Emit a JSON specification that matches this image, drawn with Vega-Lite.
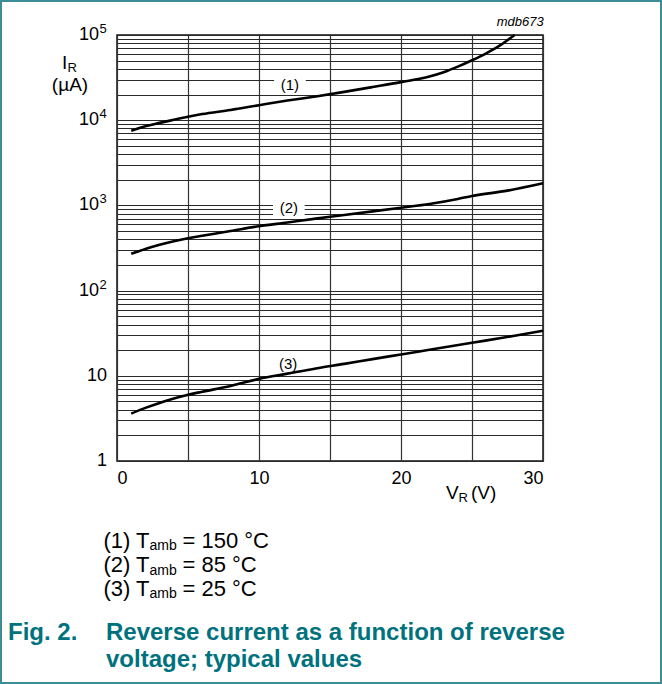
{
  "$schema": "https://vega.github.io/schema/vega-lite/v6.json",
  "width": 426,
  "height": 426,
  "autosize": {"type": "none"},
  "padding": {"left": 117, "top": 35, "right": 119, "bottom": 223},
  "background": "white",
  "config": {
    "font": "Liberation Sans",
    "view": {"stroke": "#111", "strokeWidth": 1.5},
    "text": {"font": "Liberation Sans", "color": "black"}
  },
  "datasets": {
    "curves": [
      {"curve": "1", "x": 1, "y": 7500}, {"curve": "1", "x": 2, "y": 8500}, {"curve": "1", "x": 3, "y": 9300},
      {"curve": "1", "x": 4, "y": 10100}, {"curve": "1", "x": 5, "y": 11000}, {"curve": "1", "x": 6, "y": 11800},
      {"curve": "1", "x": 8, "y": 13200}, {"curve": "1", "x": 10, "y": 15000}, {"curve": "1", "x": 12, "y": 17000},
      {"curve": "1", "x": 14, "y": 19000}, {"curve": "1", "x": 16, "y": 21500}, {"curve": "1", "x": 18, "y": 24500},
      {"curve": "1", "x": 20, "y": 28000}, {"curve": "1", "x": 22, "y": 32500}, {"curve": "1", "x": 23, "y": 36500},
      {"curve": "1", "x": 24, "y": 42500}, {"curve": "1", "x": 25, "y": 50500}, {"curve": "1", "x": 26, "y": 61000},
      {"curve": "1", "x": 27, "y": 76000}, {"curve": "1", "x": 28, "y": 100000},
      {"curve": "2", "x": 1, "y": 270}, {"curve": "2", "x": 2, "y": 308}, {"curve": "2", "x": 3, "y": 345},
      {"curve": "2", "x": 4, "y": 380}, {"curve": "2", "x": 5, "y": 412}, {"curve": "2", "x": 6, "y": 440},
      {"curve": "2", "x": 8, "y": 500}, {"curve": "2", "x": 10, "y": 570}, {"curve": "2", "x": 12, "y": 630},
      {"curve": "2", "x": 14, "y": 700}, {"curve": "2", "x": 16, "y": 770}, {"curve": "2", "x": 18, "y": 850},
      {"curve": "2", "x": 20, "y": 940}, {"curve": "2", "x": 22, "y": 1040}, {"curve": "2", "x": 24, "y": 1190},
      {"curve": "2", "x": 25, "y": 1290}, {"curve": "2", "x": 27.5, "y": 1490}, {"curve": "2", "x": 30, "y": 1820},
      {"curve": "3", "x": 1, "y": 3.6}, {"curve": "3", "x": 2, "y": 4.2}, {"curve": "3", "x": 3, "y": 4.8},
      {"curve": "3", "x": 4, "y": 5.4}, {"curve": "3", "x": 5, "y": 6.0}, {"curve": "3", "x": 6, "y": 6.5},
      {"curve": "3", "x": 8, "y": 7.6}, {"curve": "3", "x": 10, "y": 9.2}, {"curve": "3", "x": 12, "y": 10.6},
      {"curve": "3", "x": 14, "y": 12.2}, {"curve": "3", "x": 16, "y": 13.8}, {"curve": "3", "x": 18, "y": 15.7},
      {"curve": "3", "x": 20, "y": 17.8}, {"curve": "3", "x": 22, "y": 20.2}, {"curve": "3", "x": 25, "y": 24.4},
      {"curve": "3", "x": 28, "y": 29.5}, {"curve": "3", "x": 30, "y": 33.8}
    ],
    "curveLabels": [
      {"x": 12.18, "y": 25880, "label": "(1)"},
      {"x": 12.1, "y": 930, "label": "(2)"},
      {"x": 12.05, "y": 13.76, "label": "(3)"}
    ],
    "yLabels": [
      {"y": 1, "base": "1", "exp": ""},
      {"y": 10, "base": "10", "exp": ""},
      {"y": 100, "base": "10", "exp": "2"},
      {"y": 1000, "base": "10", "exp": "3"},
      {"y": 10000, "base": "10", "exp": "4"},
      {"y": 100000, "base": "10", "exp": "5"}
    ],
    "legend": [
      {"y": 0.1151, "lead": "(1) T", "sub": "amb", "rest": "= 150 °C"},
      {"y": 0.0601, "lead": "(2) T", "sub": "amb", "rest": "= 85 °C"},
      {"y": 0.03147, "lead": "(3) T", "sub": "amb", "rest": "= 25 °C"}
    ],
    "one": [{}]
  },
  "layer": [
    {
      "data": {"name": "one"},
      "mark": {"type": "rect", "filled": false, "stroke": "#3d8d96", "strokeWidth": 2},
      "encoding": {
        "x": {"datum": -8.169, "type": "quantitative", "scale": {"domain": [0, 30], "nice": false, "zero": false}},
        "x2": {"datum": 38.31},
        "y": {"datum": 250600, "type": "quantitative", "scale": {"type": "log", "domain": [1, 100000], "nice": false}},
        "y2": {"datum": 0.002477}
      }
    },
    {
      "data": {"name": "curveLabels"},
      "mark": {"type": "point", "shape": "M-1,-0.45L1,-0.45L1,0.45L-1,0.45Z", "size": 1000, "filled": true, "fill": "white", "opacity": 1, "strokeWidth": 0},
      "encoding": {
        "x": {"field": "x", "type": "quantitative", "scale": {"domain": [0, 30], "nice": false, "zero": false}},
        "y": {"field": "y", "type": "quantitative", "scale": {"type": "log", "domain": [1, 100000], "nice": false}}
      }
    },
    {
      "data": {"name": "curves"},
      "mark": {"type": "line", "color": "black", "strokeWidth": 2.6, "interpolate": "monotone"},
      "encoding": {
        "x": {
          "field": "x", "type": "quantitative",
          "scale": {"domain": [0, 30], "nice": false, "zero": false},
          "axis": {
            "values": [0, 5, 10, 15, 20, 25, 30],
            "labelExpr": "datum.value % 10 === 0 ? datum.label : ''",
            "labelFont": "Liberation Sans", "labelFontSize": 18, "labelColor": "black",
            "labelPadding": 8, "ticks": false, "domain": false,
            "grid": true, "gridColor": "#333", "gridWidth": 1.2, "gridOpacity": 1,
            "title": null
          }
        },
        "y": {
          "field": "y", "type": "quantitative",
          "scale": {"type": "log", "domain": [1, 100000], "nice": false},
          "axis": {
            "values": [1,2,3,4,5,6,7,8,9,10,20,30,40,50,60,70,80,90,100,200,300,400,500,600,700,800,900,1000,2000,3000,4000,5000,6000,7000,8000,9000,10000,20000,30000,40000,50000,60000,70000,80000,90000,100000],
            "labels": false, "ticks": false, "domain": false,
            "grid": true, "gridColor": "#2a2a2a", "gridWidth": 1, "gridOpacity": 1,
            "title": null
          }
        },
        "detail": {"field": "curve"}
      }
    },
    {
      "data": {"name": "curveLabels"},
      "mark": {"type": "text", "fontSize": 15, "align": "center", "baseline": "middle"},
      "encoding": {
        "x": {"field": "x", "type": "quantitative", "scale": {"domain": [0, 30], "nice": false, "zero": false}},
        "y": {"field": "y", "type": "quantitative", "scale": {"type": "log", "domain": [1, 100000], "nice": false}},
        "text": {"field": "label"}
      }
    },
    {
      "data": {"name": "yLabels"},
      "transform": [{"filter": "datum.exp !== ''"}],
      "mark": {"type": "text", "fontSize": 18, "align": "right", "baseline": "middle", "dx": -18},
      "encoding": {
        "x": {"datum": 0, "type": "quantitative", "scale": {"domain": [0, 30], "nice": false, "zero": false}},
        "y": {"field": "y", "type": "quantitative", "scale": {"type": "log", "domain": [1, 100000], "nice": false}},
        "text": {"field": "base"}
      }
    },
    {
      "data": {"name": "yLabels"},
      "transform": [{"filter": "datum.exp !== ''"}],
      "mark": {"type": "text", "fontSize": 13, "align": "left", "baseline": "middle", "dx": -17.5, "dy": -6},
      "encoding": {
        "x": {"datum": 0, "type": "quantitative", "scale": {"domain": [0, 30], "nice": false, "zero": false}},
        "y": {"field": "y", "type": "quantitative", "scale": {"type": "log", "domain": [1, 100000], "nice": false}},
        "text": {"field": "exp"}
      }
    },
    {
      "data": {"name": "yLabels"},
      "transform": [{"filter": "datum.exp === ''"}],
      "mark": {"type": "text", "fontSize": 18, "align": "right", "baseline": "middle", "dx": -10},
      "encoding": {
        "x": {"datum": 0, "type": "quantitative", "scale": {"domain": [0, 30], "nice": false, "zero": false}},
        "y": {"field": "y", "type": "quantitative", "scale": {"type": "log", "domain": [1, 100000], "nice": false}},
        "text": {"field": "base"}
      }
    },
    {
      "data": {"name": "one"},
      "mark": {"type": "text", "fontSize": 19, "align": "left", "baseline": "middle", "text": "I"},
      "encoding": {
        "x": {"datum": -3.873, "type": "quantitative", "scale": {"domain": [0, 30], "nice": false, "zero": false}},
        "y": {"datum": 46880, "type": "quantitative", "scale": {"type": "log", "domain": [1, 100000], "nice": false}}
      }
    },
    {
      "data": {"name": "one"},
      "mark": {"type": "text", "fontSize": 13, "align": "left", "baseline": "middle", "text": "R", "dx": 5.5, "dy": 5},
      "encoding": {
        "x": {"datum": -3.873, "type": "quantitative", "scale": {"domain": [0, 30], "nice": false, "zero": false}},
        "y": {"datum": 46880, "type": "quantitative", "scale": {"type": "log", "domain": [1, 100000], "nice": false}}
      }
    },
    {
      "data": {"name": "one"},
      "mark": {"type": "text", "fontSize": 19, "align": "center", "baseline": "middle", "text": "(µA)"},
      "encoding": {
        "x": {"datum": -3.31, "type": "quantitative", "scale": {"domain": [0, 30], "nice": false, "zero": false}},
        "y": {"datum": 25880, "type": "quantitative", "scale": {"type": "log", "domain": [1, 100000], "nice": false}}
      }
    },
    {
      "data": {"name": "one"},
      "mark": {"type": "text", "fontSize": 19, "align": "left", "baseline": "middle", "text": "V"},
      "encoding": {
        "x": {"datum": 23.17, "type": "quantitative", "scale": {"domain": [0, 30], "nice": false, "zero": false}},
        "y": {"datum": 0.4207, "type": "quantitative", "scale": {"type": "log", "domain": [1, 100000], "nice": false}}
      }
    },
    {
      "data": {"name": "one"},
      "mark": {"type": "text", "fontSize": 13, "align": "left", "baseline": "middle", "text": "R", "dx": 12.5, "dy": 5},
      "encoding": {
        "x": {"datum": 23.17, "type": "quantitative", "scale": {"domain": [0, 30], "nice": false, "zero": false}},
        "y": {"datum": 0.4207, "type": "quantitative", "scale": {"type": "log", "domain": [1, 100000], "nice": false}}
      }
    },
    {
      "data": {"name": "one"},
      "mark": {"type": "text", "fontSize": 19, "align": "left", "baseline": "middle", "text": "(V)", "dx": 25},
      "encoding": {
        "x": {"datum": 23.17, "type": "quantitative", "scale": {"domain": [0, 30], "nice": false, "zero": false}},
        "y": {"datum": 0.4207, "type": "quantitative", "scale": {"type": "log", "domain": [1, 100000], "nice": false}}
      }
    },
    {
      "data": {"name": "one"},
      "mark": {"type": "text", "fontSize": 13, "fontStyle": "italic", "align": "right", "baseline": "middle", "text": "mdb673"},
      "encoding": {
        "x": {"datum": 30.05, "type": "quantitative", "scale": {"domain": [0, 30], "nice": false, "zero": false}},
        "y": {"datum": 142100, "type": "quantitative", "scale": {"type": "log", "domain": [1, 100000], "nice": false}}
      }
    },
    {
      "data": {"name": "legend"},
      "mark": {"type": "text", "fontSize": 22, "align": "left", "baseline": "middle"},
      "encoding": {
        "x": {"datum": -0.95, "type": "quantitative", "scale": {"domain": [0, 30], "nice": false, "zero": false}},
        "y": {"field": "y", "type": "quantitative", "scale": {"type": "log", "domain": [1, 100000], "nice": false}},
        "text": {"field": "lead"}
      }
    },
    {
      "data": {"name": "legend"},
      "mark": {"type": "text", "fontSize": 14, "align": "left", "baseline": "middle", "dx": 46, "dy": 5.5},
      "encoding": {
        "x": {"datum": -0.95, "type": "quantitative", "scale": {"domain": [0, 30], "nice": false, "zero": false}},
        "y": {"field": "y", "type": "quantitative", "scale": {"type": "log", "domain": [1, 100000], "nice": false}},
        "text": {"field": "sub"}
      }
    },
    {
      "data": {"name": "legend"},
      "mark": {"type": "text", "fontSize": 22, "align": "left", "baseline": "middle", "dx": 79},
      "encoding": {
        "x": {"datum": -0.95, "type": "quantitative", "scale": {"domain": [0, 30], "nice": false, "zero": false}},
        "y": {"field": "y", "type": "quantitative", "scale": {"type": "log", "domain": [1, 100000], "nice": false}},
        "text": {"field": "rest"}
      }
    },
    {
      "data": {"name": "one"},
      "mark": {"type": "text", "fontSize": 24, "fontWeight": "bold", "color": "#00727e", "align": "left", "baseline": "middle", "text": "Fig. 2."},
      "encoding": {
        "x": {"datum": -7.676, "type": "quantitative", "scale": {"domain": [0, 30], "nice": false, "zero": false}},
        "y": {"datum": 0.009576, "type": "quantitative", "scale": {"type": "log", "domain": [1, 100000], "nice": false}}
      }
    },
    {
      "data": {"name": "one"},
      "mark": {"type": "text", "fontSize": 24, "fontWeight": "bold", "color": "#00727e", "align": "left", "baseline": "middle", "text": "Reverse current as a function of reverse"},
      "encoding": {
        "x": {"datum": -0.775, "type": "quantitative", "scale": {"domain": [0, 30], "nice": false, "zero": false}},
        "y": {"datum": 0.009576, "type": "quantitative", "scale": {"type": "log", "domain": [1, 100000], "nice": false}}
      }
    },
    {
      "data": {"name": "one"},
      "mark": {"type": "text", "fontSize": 24, "fontWeight": "bold", "color": "#00727e", "align": "left", "baseline": "middle", "text": "voltage; typical values"},
      "encoding": {
        "x": {"datum": -0.775, "type": "quantitative", "scale": {"domain": [0, 30], "nice": false, "zero": false}},
        "y": {"datum": 0.004615, "type": "quantitative", "scale": {"type": "log", "domain": [1, 100000], "nice": false}}
      }
    }
  ]
}
